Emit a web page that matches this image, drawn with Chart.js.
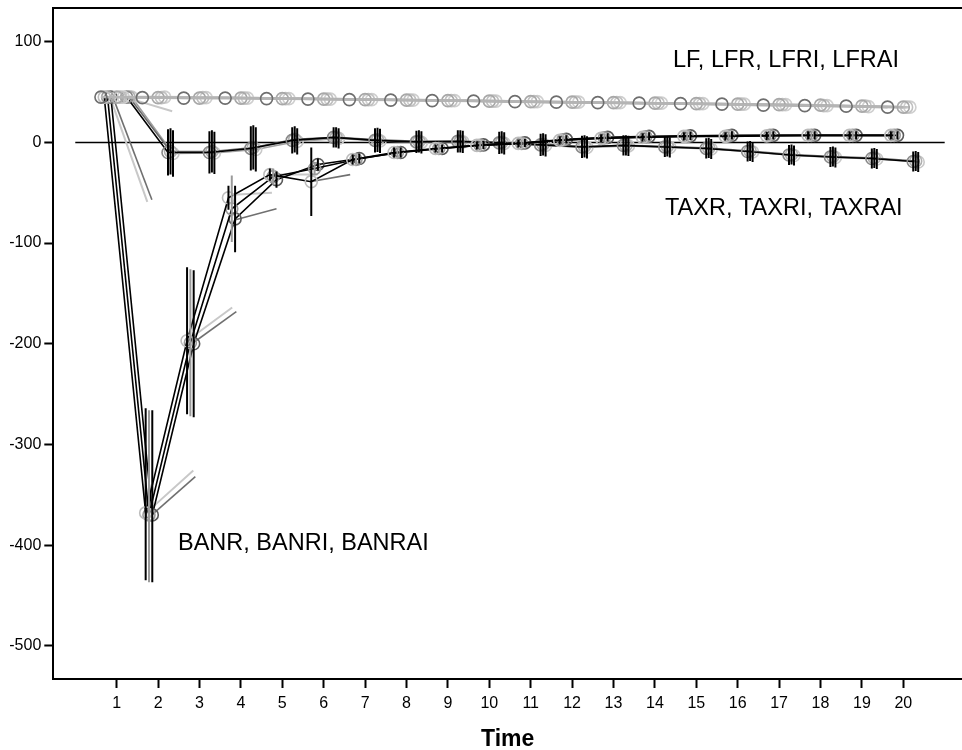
<!DOCTYPE html>
<html><head><meta charset="utf-8">
<script src="https://cdn.jsdelivr.net/npm/chart.js@4/dist/chart.umd.min.js"></script>
<style>html,body{margin:0;padding:0;background:#fff}#wrap{width:962px;height:750px}</style>
</head><body><div id="wrap"><canvas id="c" width="962" height="750"></canvas></div>
<script>
// ---------- data ----------
const times = [1,2,3,4,5,6,7,8,9,10,11,12,13,14,15,16,17,18,19,20];
const xTickValues = [1,2,3,4,5,6,7,8,9,10,11,12,13,14,15,16,17,18,19,20];
const yTickValues = [100,0,-100,-200,-300,-400,-500];

const LF     = [45,44.5,44,44,43.5,43,42.5,42,41.5,41,40.5,40,39.5,39,38.5,38,37,36.5,36,35];
const LFR    = [45,44.5,44,44,43.5,43,42.5,42,41.5,41,40.5,40,39.5,39,38.5,38,37.5,37,36,35];
const LFRI   = [45,44.5,44.5,44,43.5,43,42.5,42,41.5,41,40.5,40,39.5,39,38.5,38,37.5,36.5,36,35];
const LFRAI  = [45,45,44.5,44,43.5,43,42.5,42,41.5,41,40.5,40,39.5,39,38.5,38,37.5,36.5,35.5,35];

const BANR   = [45,-368,-197,-55,-32,-39,-17,-10,-6,-3,-1,2,4,5,6,6,6.5,7,7,7];
const BANRI  = [45,-370,-199,-66,-34,-26,-17,-10,-6,-3,-1,2.5,4.5,5.5,6,6.5,7,7,7,7];
const BANRAI = [45,-370,-200,-76,-37,-22,-16,-10,-6,-2.5,-0.5,3,5,6,6.5,7,7,7,7,7];

const TAXR   = [45,-10,-10,-6,2,5,2,0.5,1,-0.5,-2.5,-4.5,-3,-4.5,-6,-9,-12.5,-14.5,-16,-19];
const TAXRI  = [45,-9,-9,-5,3,5,2.5,1,1,0,-2,-4,-3,-4,-5.5,-8.5,-12,-14,-15.5,-18.5];
const TAXRAI = [45,-11,-10.5,-7,1,4,1.5,0,0.5,-1,-3,-5,-3.5,-5,-6.5,-9.5,-13,-15,-16.5,-19.5];

// error-bar extents (above / below the estimate)
const BANR_errUp     = [0,104,73,12,6,34,5,5,4,4,4,4,4,4,4,4,4,4,4,4];
const BANR_errDown   = [0,67,73,12,6,34,5,5,4,4,4,4,4,4,4,4,4,4,4,4];
const BANRI_errUp    = [0,104,73,33,8,6,5,5,4,4,4,4,4,4,4,4,4,4,4,4];
const BANRI_errDown  = [0,67,73,33,8,6,5,5,4,4,4,4,4,4,4,4,4,4,4,4];
const BANRAI_errUp   = [0,104,73,33,8,6,5,5,4,4,4,4,4,4,4,4,4,4,4,4];
const BANRAI_errDown = [0,67,73,33,8,6,5,5,4,4,4,4,4,4,4,4,4,4,4,4];
const TAX_errUp      = [0,23,21,22,13,10,12,11,11,11,11,11,10,10,10,10,10,10,10,10];
const TAX_errDown    = [0,23,21,22,13,10,12,11,11,11,11,11,10,10,10,10,10,10,10,10];

// short interpolation stubs [x0,y0,x1,y1]
const stubsLight = [[0.84,45,1.74,-59],[1.2,45,2.34,31],[1.74,-367,2.85,-326],[2.7,-197,3.79,-164],[3.8,-52,4.75,-50],[4.83,-32,5.85,-32]];
const stubsDark  = [[0.91,45,1.85,-57],[1.85,-370,2.9,-332],[2.85,-199,3.89,-168],[3.85,-77,4.86,-66],[5.67,-39,6.64,-32]];

const refLine = [[0,0],[21,0]];

// ---------- styles ----------
const FONT = "'Liberation Sans', Arial, sans-serif";
Chart.defaults.font.family = FONT;

const seriesDefs = [
  {vals: LF,     off: -0.38, line: '#b4b4b4', pt: '#6e6e6e', lw: 2.5},
  {vals: LFR,    off:  0.00, line: '#b4b4b4', pt: '#a8a8a8', lw: 2.5},
  {vals: LFRI,   off:  0.08, line: '#bdbdbd', pt: '#c0c0c0', lw: 2.5},
  {vals: LFRAI,  off:  0.16, line: '#c4c4c4', pt: '#cfcfcf', lw: 2.5},
  {vals: BANR,   off: -0.30, line: '#000000', pt: '#bcbcbc', lw: 1.6, up: BANR_errUp,   dn: BANR_errDown,   ec: '#000'},
  {vals: BANRI,  off: -0.22, line: '#000000', pt: '#9a9a9a', lw: 1.6, up: BANRI_errUp,  dn: BANRI_errDown,  ec: '#9a9a9a'},
  {vals: BANRAI, off: -0.14, line: '#000000', pt: '#5a5a5a', lw: 1.6, up: BANRAI_errUp, dn: BANRAI_errDown, ec: '#000'},
  {vals: TAXR,   off:  0.24, line: '#000000', pt: '#8a8a8a', lw: 1.6, up: TAX_errUp,    dn: TAX_errDown,    ec: '#000'},
  {vals: TAXRI,  off:  0.30, line: '#6a6a6a', pt: '#b0b0b0', lw: 1.6, up: TAX_errUp,    dn: TAX_errDown,    ec: '#000'},
  {vals: TAXRAI, off:  0.36, line: '#a0a0a0', pt: '#c8c8c8', lw: 1.6, up: TAX_errUp,    dn: TAX_errDown,    ec: '#000'}
];

const datasets = [];
datasets.push({data: refLine.map(p => ({x: p[0], y: p[1]})), showLine: true, borderColor: '#000', borderWidth: 1.5, pointRadius: 0, order: 5});
seriesDefs.forEach(s => {
  datasets.push({
    data: times.map((t, i) => ({x: t + s.off, y: s.vals[i]})),
    showLine: true, borderColor: s.line, borderWidth: s.lw,
    pointRadius: 6, pointBorderColor: s.pt, pointBackgroundColor: 'rgba(0,0,0,0)', pointBorderWidth: 1.6,
    order: 2
  });
  if (s.up) {
    const pts = [];
    times.forEach((t, i) => {
      if (s.up[i] > 0 || s.dn[i] > 0) {
        pts.push({x: t + s.off, y: s.vals[i] - s.dn[i]});
        pts.push({x: t + s.off, y: s.vals[i] + s.up[i]});
        pts.push({x: t + s.off, y: null});
      }
    });
    datasets.push({data: pts, showLine: true, spanGaps: false, borderColor: s.ec, borderWidth: 2, pointRadius: 0, order: 1});
  }
});
stubsLight.forEach(st => datasets.push({data: [{x: st[0], y: st[1]}, {x: st[2], y: st[3]}], showLine: true, borderColor: '#c8c8c8', borderWidth: 2, pointRadius: 0, order: 3}));
stubsDark.forEach(st => datasets.push({data: [{x: st[0], y: st[1]}, {x: st[2], y: st[3]}], showLine: true, borderColor: '#707070', borderWidth: 1.6, pointRadius: 0, order: 3}));

const annotations = {
  id: 'annotations',
  afterDraw(chart) {
    const {ctx, chartArea} = chart;
    ctx.save();
    ctx.strokeStyle = '#000'; ctx.lineWidth = 2;
    ctx.beginPath(); ctx.moveTo(chartArea.left - 1, chartArea.top); ctx.lineTo(chartArea.right, chartArea.top); ctx.stroke();
    ctx.fillStyle = '#000';
    ctx.font = "23.5px " + FONT;
    ctx.textBaseline = 'alphabetic';
    ctx.fillText('LF, LFR, LFRI, LFRAI', 673, 67);
    ctx.fillText('TAXR, TAXRI, TAXRAI', 665, 215);
    ctx.fillText('BANR, BANRI, BANRAI', 178, 550);
    ctx.restore();
  }
};

new Chart(document.getElementById('c'), {
  type: 'scatter',
  data: {datasets},
  plugins: [annotations],
  options: {
    responsive: false, animation: false,
    layout: {autoPadding: false, padding: {top: 8, right: 0, bottom: 0, left: 0}},
    plugins: {legend: {display: false}, tooltip: {enabled: false}},
    scales: {
      x: {
        type: 'linear', min: -0.531, max: 21.418,
        afterBuildTicks: s => { s.ticks = xTickValues.map(v => ({value: v})); },
        afterFit: s => { s.height = 71; s.paddingLeft = 0; s.paddingRight = 0; },
        grid: {display: true, drawOnChartArea: false, drawTicks: true, tickLength: 9, tickWidth: 2, tickColor: '#000'},
        border: {display: true, color: '#000', width: 2},
        ticks: {color: '#000', font: {size: 16}, padding: 6, maxRotation: 0, autoSkip: false},
        title: {display: true, text: 'Time', color: '#000', font: {size: 23, weight: 'bold', lineHeight: 0.9}, padding: 0}
      },
      y: {
        type: 'linear', min: -533, max: 133.5,
        afterBuildTicks: s => { s.ticks = yTickValues.map(v => ({value: v})); },
        afterFit: s => { s.width = 53.3; s.paddingTop = 0; s.paddingBottom = 0; },
        grid: {display: true, drawOnChartArea: false, drawTicks: true, tickLength: 9, tickWidth: 2, tickColor: '#000'},
        border: {display: true, color: '#000', width: 2},
        ticks: {color: '#000', font: {size: 16}, padding: 3}
      }
    }
  }
});
</script>
</body></html>
